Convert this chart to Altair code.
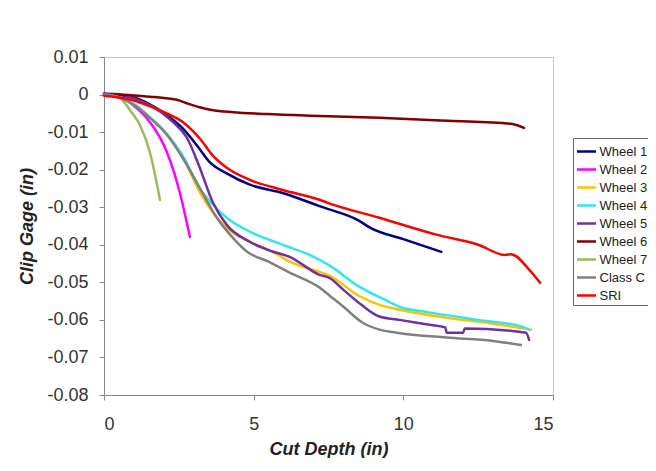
import altair as alt
import pandas as pd

series_names = ["Wheel 1", "Wheel 2", "Wheel 3", "Wheel 4", "Wheel 5",
                "Wheel 6", "Wheel 7", "Class C", "SRI"]
series_colors = ["#000080", "#FF00FF", "#FFC000", "#33E6EE", "#7030A0",
                 "#800000", "#9BBB59", "#808080", "#FF0000"]

x_ticks = [0, 5, 10, 15]
y_ticks = [0.01, 0.0, -0.01, -0.02, -0.03, -0.04, -0.05, -0.06, -0.07, -0.08]

wheel1_x = [0, 0.5, 1.0, 1.5, 2.1, 2.63, 3.1, 3.53, 4.1, 4.87, 5.97, 7.2, 7.5, 8.5, 8.9, 10.0, 11.27]
wheel1_y = [0.0002, -0.0002, -0.0008, -0.0025, -0.0055, -0.009, -0.0135, -0.018, -0.021, -0.024,
            -0.0262, -0.0297, -0.0305, -0.0335, -0.0355, -0.0385, -0.0419]

wheel2_x = [0, 0.5, 1.0, 1.53, 2.1, 2.53, 2.87]
wheel2_y = [0, -0.0004, -0.003, -0.0073, -0.0153, -0.026, -0.0379]

wheel3_x = [0, 0.53, 1.0, 1.53, 2.1, 2.63, 3.2, 3.6, 4.1, 4.87, 5.63, 6.2, 7.2, 7.53, 8.5, 9.2,
            9.87, 11.43, 13.0, 14.27]
wheel3_y = [0, -0.0008, -0.0025, -0.006, -0.0105, -0.0165, -0.026, -0.031, -0.0355, -0.0392,
            -0.0418, -0.0445, -0.0472, -0.0482, -0.0535, -0.056, -0.0573, -0.0594, -0.061, -0.0626]

wheel4_x = [0, 0.53, 1.0, 1.53, 2.1, 2.63, 3.2, 3.6, 4.1, 4.87, 5.97, 6.87, 7.53, 8.5, 9.53, 9.87,
            10.87, 12.5, 13.97, 14.2]
wheel4_y = [0, -0.0008, -0.0025, -0.006, -0.0105, -0.0163, -0.025, -0.029, -0.0328, -0.0365,
            -0.040, -0.0427, -0.0455, -0.051, -0.0552, -0.0565, -0.058, -0.060, -0.0618, -0.0626]

wheel5_x = [0, 0.5, 1.0, 1.53, 2.3, 2.77, 3.2, 3.63, 4.1, 4.87, 5.63, 6.2, 7.2, 7.53, 8.0, 8.6,
            9.2, 9.87, 10.87, 11.4, 11.45, 12.0, 12.05, 14.1, 14.2]
wheel5_y = [0.0003, 0.0001, -0.001, -0.0028, -0.0073, -0.0115, -0.0195, -0.0286, -0.0347, -0.0392,
            -0.0418, -0.0432, -0.048, -0.0488, -0.052, -0.056, -0.0591, -0.060, -0.0613, -0.062,
            -0.0634, -0.0634, -0.0623, -0.0634, -0.0653]

wheel6_x = [0, 0.5, 1.53, 2.0, 2.43, 2.8, 3.2, 3.6, 4.3, 5.43, 7.2, 9.2, 11.5, 13.6, 14.03]
wheel6_y = [0.0001, 0, -0.0006, -0.0009, -0.0014, -0.0024, -0.0034, -0.0041, -0.0047, -0.0052,
            -0.0057, -0.0062, -0.007, -0.0078, -0.0089]

wheel7_x = [0, 0.2, 0.53, 0.9, 1.2, 1.53, 1.87]
wheel7_y = [0, -0.0001, -0.0009, -0.0045, -0.0081, -0.0153, -0.028]

classc_x = [0, 0.53, 1.0, 1.53, 2.1, 2.63, 3.2, 3.77, 4.3, 4.77, 5.5, 6.2, 7.2, 7.53, 8.0, 8.63,
            9.2, 9.77, 11.43, 13.0, 13.93]
classc_y = [0, -0.0009, -0.0028, -0.0062, -0.0107, -0.0169, -0.0249, -0.0328, -0.0381, -0.0418,
            -0.0445, -0.0474, -0.0514, -0.0535, -0.0565, -0.0607, -0.0626, -0.0634, -0.0647,
            -0.0656, -0.0667]

sri_x = [0, 0.97, 1.5, 2.1, 2.63, 3.2, 3.63, 4.1, 4.87, 5.97, 7.2, 7.5, 9.2, 11.1, 12.5, 13.4,
         13.6, 14.2, 14.57]
sri_y = [-0.0003, -0.0015, -0.003, -0.005, -0.0073, -0.0117, -0.0162, -0.0195, -0.0227, -0.0254,
         -0.028, -0.0289, -0.0328, -0.0373, -0.040, -0.0427, -0.0425, -0.0466, -0.0501]

all_series = [
    ("Wheel 1", wheel1_x, wheel1_y),
    ("Wheel 2", wheel2_x, wheel2_y),
    ("Wheel 3", wheel3_x, wheel3_y),
    ("Wheel 4", wheel4_x, wheel4_y),
    ("Wheel 5", wheel5_x, wheel5_y),
    ("Wheel 6", wheel6_x, wheel6_y),
    ("Wheel 7", wheel7_x, wheel7_y),
    ("Class C", classc_x, classc_y),
    ("SRI", sri_x, sri_y),
]

rows = []
for name, xs, ys in all_series:
    for i, (xv, yv) in enumerate(zip(xs, ys)):
        rows.append({"series": name, "x": xv, "y": yv, "i": i})
df = pd.DataFrame(rows)

FONT = "Liberation Sans"

y_label_expr = ("abs(datum.value) < 1e-9 ? '0' : (datum.value < 0 ? '-' + format(-datum.value, '.2f') "
                ": format(datum.value, '.2f'))")

chart = alt.Chart(df).mark_line(strokeWidth=2.5, strokeJoin="round", strokeCap="round",
                                interpolate="monotone").encode(
    x=alt.X("x:Q",
            scale=alt.Scale(domain=[0, 15], nice=False, zero=False),
            axis=alt.Axis(values=x_ticks, title="Cut Depth (in)", grid=False,
                          labelFontSize=18, labelFont=FONT, labelColor="#333333",
                          labelPadding=15, tickSize=5, titlePadding=7,
                          titleFont=FONT, titleFontSize=18, titleFontStyle="italic",
                          titleFontWeight="bold", titleColor="#222222",
                          domainColor="#888888", tickColor="#888888")),
    y=alt.Y("y:Q",
            scale=alt.Scale(domain=[-0.08, 0.01], nice=False, zero=False),
            axis=alt.Axis(values=y_ticks, title="Clip Gage (in)", grid=False,
                          labelExpr=y_label_expr,
                          labelFontSize=18, labelFont=FONT, labelColor="#333333",
                          labelPadding=11, tickSize=5, titlePadding=10,
                          titleFont=FONT, titleFontSize=18, titleFontStyle="italic",
                          titleFontWeight="bold", titleColor="#222222",
                          domainColor="#888888", tickColor="#888888")),
    color=alt.Color("series:N",
                    scale=alt.Scale(domain=series_names, range=series_colors),
                    legend=alt.Legend(title=None, orient="none", legendX=469, legendY=81,
                                      symbolType="stroke", symbolSize=361, symbolStrokeWidth=2.5,
                                      labelFont=FONT, labelFontSize=13, labelColor="#222222",
                                      labelOffset=2, padding=2.5, rowPadding=0,
                                      strokeColor="#666666", fillColor="white")),
    detail="series:N",
    order="i:Q",
).properties(
    width=449,
    height=338,
    padding={"left": 96, "top": 49, "right": 95, "bottom": 63},
    autosize=alt.AutoSizeParams(type="none"),
).configure_view(
    stroke="#c8c8c8", strokeWidth=1
)

chart.save("out.html", embed_options={"renderer": "svg", "actions": False})
